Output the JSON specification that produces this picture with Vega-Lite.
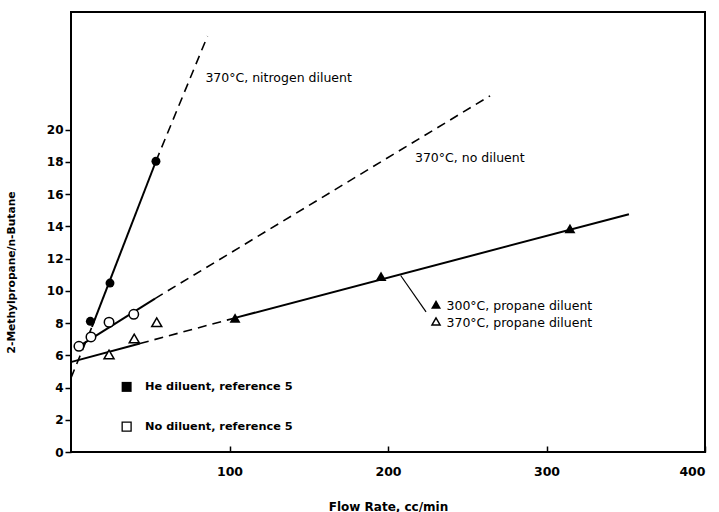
{
  "$schema": "https://vega.github.io/schema/vega-lite/v6.json",
  "width": 634,
  "height": 440,
  "autosize": "none",
  "padding": {"left": 71, "top": 12, "right": 14, "bottom": 60},
  "background": "white",
  "config": {"view": {"stroke": "black", "strokeWidth": 2}, "font": "DejaVu Sans"},
  "datasets": {
    "points": [
      {"series": "He diluent", "x": 12.2, "y": 8.11},
      {"series": "He diluent", "x": 24.6, "y": 10.48},
      {"series": "He diluent", "x": 53.6, "y": 18.04},
      {"series": "No diluent", "x": 5.0, "y": 6.56},
      {"series": "No diluent", "x": 12.6, "y": 7.14},
      {"series": "No diluent", "x": 24.0, "y": 8.05},
      {"series": "No diluent", "x": 39.6, "y": 8.54},
      {"series": "370C propane", "x": 24.0, "y": 6.05},
      {"series": "370C propane", "x": 39.9, "y": 7.04},
      {"series": "370C propane", "x": 54.1, "y": 8.05},
      {"series": "300C propane", "x": 103.5, "y": 8.32},
      {"series": "300C propane", "x": 195.6, "y": 10.9},
      {"series": "300C propane", "x": 314.8, "y": 13.87}
    ],
    "lines": [
      {"seg": "n1", "kind": "extrapolated", "x": 0, "y": 4.6},
      {"seg": "n1", "kind": "extrapolated", "x": 13.2, "y": 7.76},
      {"seg": "n2", "kind": "fit", "x": 13.2, "y": 7.76},
      {"seg": "n2", "kind": "fit", "x": 53.6, "y": 18.04},
      {"seg": "n3", "kind": "extrapolated", "x": 53.6, "y": 18.04},
      {"seg": "n3", "kind": "extrapolated", "x": 86.1, "y": 25.8},
      {"seg": "d1", "kind": "fit", "x": 3.5, "y": 6.46},
      {"seg": "d1", "kind": "fit", "x": 53, "y": 9.52},
      {"seg": "d2", "kind": "extrapolated", "x": 53, "y": 9.52},
      {"seg": "d2", "kind": "extrapolated", "x": 264.4, "y": 22.1},
      {"seg": "p1", "kind": "fit", "x": 0.4, "y": 5.59},
      {"seg": "p1", "kind": "fit", "x": 43.5, "y": 6.73},
      {"seg": "p2", "kind": "extrapolated", "x": 43.5, "y": 6.73},
      {"seg": "p2", "kind": "extrapolated", "x": 103.5, "y": 8.32},
      {"seg": "p3", "kind": "fit", "x": 103.5, "y": 8.32},
      {"seg": "p3", "kind": "fit", "x": 352, "y": 14.75},
      {"seg": "leader", "kind": "leader", "x": 208, "y": 10.95},
      {"seg": "leader", "kind": "leader", "x": 224, "y": 8.69}
    ],
    "labels": [
      {"x": 84.8, "y": 23.2, "label": "370°C, nitrogen diluent", "weight": "normal"},
      {"x": 217, "y": 18.27, "label": "370°C, no diluent", "weight": "normal"},
      {"x": 236.9, "y": 9.04, "label": "300°C, propane diluent", "weight": "normal"},
      {"x": 236.9, "y": 8.0, "label": "370°C, propane diluent", "weight": "normal"},
      {"x": 46.7, "y": 4.04, "label": "He diluent, reference 5", "weight": "bold"},
      {"x": 46.7, "y": 1.57, "label": "No diluent, reference 5", "weight": "bold"}
    ],
    "keys": [
      {"key": "He diluent", "x": 35.1, "y": 4.04},
      {"key": "No diluent", "x": 35.1, "y": 1.57},
      {"key": "300C propane", "x": 230.3, "y": 9.16},
      {"key": "370C propane", "x": 230.3, "y": 8.1}
    ]
  },
  "encoding": {
    "x": {
      "field": "x", "type": "quantitative",
      "scale": {"domain": [0, 400], "nice": false, "zero": false},
      "axis": {
        "title": "Flow Rate, cc/min", "values": [100, 200, 300, 400], "grid": false, "domain": false,
        "tickSize": -6, "tickColor": "black", "tickWidth": 1.5,
        "labelFont": "DejaVu Sans", "labelFontWeight": "bold", "labelFontSize": 12.5, "labelColor": "black",
        "labelPadding": 19, "labelBaseline": "top",
        "titleFont": "DejaVu Sans", "titleFontWeight": "bold", "titleFontSize": 12, "titleColor": "black",
        "titleY": 54, "titleBaseline": "middle"
      }
    },
    "y": {
      "field": "y", "type": "quantitative",
      "scale": {"domain": [0, 27.3], "nice": false, "zero": false},
      "axis": {
        "title": "2-Methylpropane/n-Butane", "values": [0, 2, 4, 6, 8, 10, 12, 14, 16, 18, 20], "grid": false, "domain": false,
        "tickSize": 6, "tickColor": "black", "tickWidth": 1.5,
        "labelFont": "DejaVu Sans", "labelFontWeight": "bold", "labelFontSize": 12, "labelColor": "black",
        "labelPadding": 2,
        "titleFont": "DejaVu Sans", "titleFontWeight": "bold", "titleFontSize": 10.7, "titleColor": "black",
        "titleX": -60, "titleY": 260, "titleAngle": 270, "titleAlign": "center", "titleBaseline": "middle"
      }
    }
  },
  "layer": [
    {
      "data": {"name": "lines"},
      "transform": [{"filter": "datum.kind === 'fit'"}],
      "mark": {"type": "line", "color": "black", "strokeWidth": 2},
      "encoding": {"detail": {"field": "seg"}}
    },
    {
      "data": {"name": "lines"},
      "transform": [{"filter": "datum.kind === 'extrapolated'"}],
      "mark": {"type": "line", "color": "black", "strokeWidth": 1.6, "strokeDash": [9, 6]},
      "encoding": {"detail": {"field": "seg"}}
    },
    {
      "data": {"name": "lines"},
      "transform": [{"filter": "datum.kind === 'leader'"}],
      "mark": {"type": "line", "color": "black", "strokeWidth": 1.2},
      "encoding": {"detail": {"field": "seg"}}
    },
    {
      "data": {"name": "points"},
      "transform": [{"filter": "datum.series === 'He diluent'"}],
      "mark": {"type": "point", "shape": "circle", "filled": true, "color": "black", "size": 80, "opacity": 1}
    },
    {
      "data": {"name": "points"},
      "transform": [{"filter": "datum.series === 'No diluent'"}],
      "mark": {"type": "point", "shape": "circle", "fill": "white", "stroke": "black", "strokeWidth": 1.5, "size": 90, "opacity": 1, "fillOpacity": 1}
    },
    {
      "data": {"name": "points"},
      "transform": [{"filter": "datum.series === '300C propane'"}],
      "mark": {"type": "point", "shape": "triangle-up", "filled": true, "color": "black", "size": 120, "opacity": 1}
    },
    {
      "data": {"name": "points"},
      "transform": [{"filter": "datum.series === '370C propane'"}],
      "mark": {"type": "point", "shape": "triangle-up", "fill": "white", "stroke": "black", "strokeWidth": 1.5, "size": 100, "opacity": 1, "fillOpacity": 1}
    },
    {
      "data": {"name": "keys"},
      "transform": [{"filter": "datum.key === 'He diluent'"}],
      "mark": {"type": "point", "shape": "square", "filled": true, "color": "black", "size": 100, "opacity": 1}
    },
    {
      "data": {"name": "keys"},
      "transform": [{"filter": "datum.key === 'No diluent'"}],
      "mark": {"type": "point", "shape": "square", "fill": "white", "stroke": "black", "strokeWidth": 1.3, "size": 80, "opacity": 1, "fillOpacity": 1}
    },
    {
      "data": {"name": "keys"},
      "transform": [{"filter": "datum.key === '300C propane'"}],
      "mark": {"type": "point", "shape": "triangle-up", "filled": true, "color": "black", "size": 100, "opacity": 1}
    },
    {
      "data": {"name": "keys"},
      "transform": [{"filter": "datum.key === '370C propane'"}],
      "mark": {"type": "point", "shape": "triangle-up", "fill": "white", "stroke": "black", "strokeWidth": 1.5, "size": 65, "opacity": 1, "fillOpacity": 1}
    },
    {
      "data": {"name": "labels"},
      "transform": [{"filter": "datum.weight === 'normal'"}],
      "mark": {"type": "text", "align": "left", "baseline": "middle", "font": "DejaVu Sans", "fontSize": 12.5, "color": "black"},
      "encoding": {"text": {"field": "label"}}
    },
    {
      "data": {"name": "labels"},
      "transform": [{"filter": "datum.weight === 'bold'"}],
      "mark": {"type": "text", "align": "left", "baseline": "middle", "font": "DejaVu Sans", "fontSize": 11.3, "fontWeight": "bold", "color": "black"},
      "encoding": {"text": {"field": "label"}}
    }
  ]
}
